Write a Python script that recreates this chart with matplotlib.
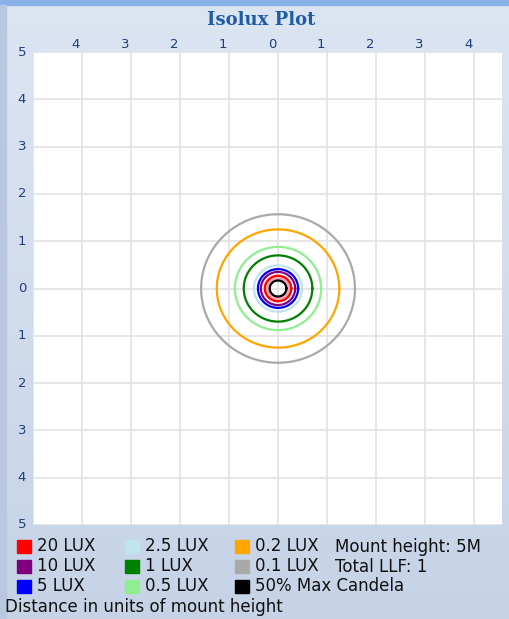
import numpy as np
import matplotlib
matplotlib.use("Agg")
import matplotlib.pyplot as plt
from matplotlib.patches import Rectangle

# ==========================
# 数据
# ==========================

levels = ["20 LUX", "10 LUX", "5 LUX", "2.5 LUX", "1 LUX", "0.5 LUX",
          "0.2 LUX", "0.1 LUX", "50% Max Candela"]
level_colors = ["#FF0000", "#800080", "#0000FF", "#BFE3EF", "#008000",
                "#90EE90", "#FFA500", "#A9A9A9", "#000000"]
# 等照度圈半径（单位：安装高度）
radii = [0.27, 0.35, 0.41, 0.49, 0.70, 0.88, 1.25, 1.57, 0.17]
# 20 LUX 以内的高照度区（粉色填充）
hot_zone = (0.17, 0.27)

x_ticks = [-4, -3, -2, -1, 0, 1, 2, 3, 4]
y_ticks = [5, 4, 3, 2, 1, 0, -1, -2, -3, -4, -5]

info_lines = ["Mount height: 5M", "Total LLF: 1"]
footer = "Distance in units of mount height"

TICK_COLOR = "#1E3F7A"
TITLE_COLOR = "#1F5CA6"

W, H, DPI = 509, 619, 100
fig = plt.figure(figsize=(W / DPI, H / DPI), dpi=DPI)

# 背景渐变
bg = fig.add_axes([0, 0, 1, 1], zorder=-10)
grad = np.linspace(0, 1, 256).reshape(-1, 1)
bg.imshow(grad, aspect="auto", extent=[0, 1, 0, 1],
          cmap=matplotlib.colors.LinearSegmentedColormap.from_list(
              "bg", ["#DCE5F2", "#C6D3E7"]))
bg.add_patch(Rectangle((0, 1 - 5 / H), 1, 5 / H, color="#8AB2EA"))
bg.add_patch(Rectangle((0, 0), 6 / W, 1 - 5 / H, color="#B9C8E0"))
bg.set_xlim(0, 1)
bg.set_ylim(0, 1)
bg.axis("off")

# 主图区域
left, right, top, bottom = 33, 502, 52, 525
ax = fig.add_axes([left / W, 1 - bottom / H, (right - left) / W, (bottom - top) / H])
ax.set_facecolor("white")
ax.set_xlim(-5, 4.57)
ax.set_ylim(-5, 5)
for v in range(-5, 6):
    ax.axvline(v, color="#E2E2E2", lw=1.2, zorder=1)
    ax.axhline(v, color="#E2E2E2", lw=1.2, zorder=1)
for s in ax.spines.values():
    s.set_visible(False)
ax.set_xticks([])
ax.set_yticks([])

theta = np.linspace(0, 2 * np.pi, 181)
r_in, r_out = hot_zone
ax.fill(np.r_[r_out * np.cos(theta), r_in * np.cos(theta[::-1])],
        np.r_[r_out * np.sin(theta), r_in * np.sin(theta[::-1])],
        color="#F4A7B9", lw=0, zorder=2)
for r, c in sorted(zip(radii, level_colors), key=lambda t: -t[0]):
    ax.plot(r * np.cos(theta), r * np.sin(theta), color=c, lw=1.6, zorder=3)

# 刻度文字
for v in x_ticks:
    ax.annotate(str(abs(v)), xy=(v, 1), xycoords=("data", "axes fraction"),
                xytext=(-6, 8), textcoords="offset pixels", ha="center",
                va="center", fontsize=9.5, color=TICK_COLOR, annotation_clip=False)
for v in y_ticks:
    ax.annotate(str(abs(v)), xy=(0, v), xycoords=("axes fraction", "data"),
                xytext=(22 - left, 0), textcoords="offset pixels", ha="center",
                va="center", fontsize=9.5, color=TICK_COLOR, annotation_clip=False)

fig.text(261 / W, 1 - 20 / H, "Isolux Plot", ha="center", va="center",
         fontsize=13, fontweight="bold", color=TITLE_COLOR, family="DejaVu Serif")

# 图例
order = [0, 3, 6, 1, 4, 7, 2, 5, 8]
col_x = [17, 125, 235]
row_y = [546, 566, 586]
for k, idx in enumerate(order):
    col, row = k % 3, k // 3
    x0, y0 = col_x[col], row_y[row]
    fig.patches.append(Rectangle((x0 / W, 1 - (y0 + 6.5) / H), 14 / W, 13 / H,
                                 transform=fig.transFigure, color=level_colors[idx]))
    fig.text((x0 + 20) / W, 1 - y0 / H, levels[idx], ha="left", va="center",
             fontsize=12, color="#111111")
for i, t in enumerate(info_lines):
    fig.text(335 / W, 1 - (row_y[i] + 1) / H, t, ha="left", va="center",
             fontsize=12, color="#111111")
fig.text(5 / W, 1 - 607 / H, footer, ha="left", va="center",
         fontsize=12, color="#111111")

fig.savefig("out.png", dpi=DPI)
